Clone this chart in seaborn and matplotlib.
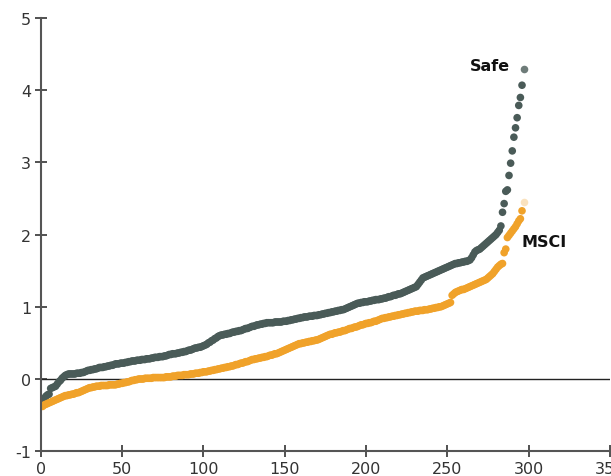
import numpy as np
import pandas as pd
import seaborn as sns
import matplotlib.pyplot as plt

# sorted scores, one point per asset (x = rank)
safe_values = [
    -0.30, -0.27, -0.24, -0.22, -0.21, -0.13, -0.12, -0.11, -0.10, -0.07,
    -0.04, -0.02, 0.01, 0.03, 0.05, 0.06, 0.07, 0.07, 0.07, 0.07,
    0.07, 0.08, 0.08, 0.08, 0.09, 0.09, 0.10, 0.11, 0.12, 0.12,
    0.13, 0.13, 0.14, 0.14, 0.15, 0.16, 0.16, 0.16, 0.17, 0.17,
    0.18, 0.18, 0.19, 0.19, 0.20, 0.21, 0.21, 0.21, 0.22, 0.22,
    0.22, 0.23, 0.23, 0.24, 0.24, 0.25, 0.25, 0.25, 0.26, 0.26,
    0.26, 0.27, 0.27, 0.27, 0.28, 0.28, 0.28, 0.29, 0.29, 0.30,
    0.30, 0.30, 0.31, 0.31, 0.31, 0.32, 0.32, 0.33, 0.34, 0.34,
    0.35, 0.35, 0.35, 0.36, 0.36, 0.37, 0.37, 0.38, 0.38, 0.39,
    0.40, 0.40, 0.41, 0.42, 0.43, 0.43, 0.44, 0.44, 0.45, 0.46,
    0.47, 0.48, 0.50, 0.51, 0.53, 0.54, 0.56, 0.57, 0.59, 0.60,
    0.61, 0.61, 0.62, 0.62, 0.63, 0.63, 0.64, 0.65, 0.65, 0.66,
    0.66, 0.67, 0.67, 0.68, 0.69, 0.70, 0.70, 0.71, 0.72, 0.73,
    0.73, 0.74, 0.75, 0.75, 0.76, 0.76, 0.77, 0.77, 0.78, 0.78,
    0.78, 0.78, 0.78, 0.79, 0.79, 0.79, 0.79, 0.79, 0.80, 0.80,
    0.80, 0.81, 0.81, 0.82, 0.82, 0.83, 0.83, 0.84, 0.84, 0.85,
    0.85, 0.86, 0.86, 0.86, 0.87, 0.87, 0.87, 0.88, 0.88, 0.88,
    0.89, 0.89, 0.90, 0.90, 0.91, 0.91, 0.92, 0.92, 0.93, 0.93,
    0.94, 0.94, 0.95, 0.95, 0.96, 0.96, 0.97, 0.98, 0.99, 1.00,
    1.01, 1.02, 1.03, 1.04, 1.05, 1.05, 1.06, 1.06, 1.07, 1.07,
    1.07, 1.08, 1.08, 1.09, 1.09, 1.10, 1.10, 1.10, 1.11, 1.11,
    1.12, 1.12, 1.13, 1.14, 1.14, 1.15, 1.16, 1.16, 1.17, 1.18,
    1.18, 1.19, 1.20, 1.21, 1.22, 1.23, 1.24, 1.25, 1.26, 1.27,
    1.28, 1.31, 1.34, 1.37, 1.40, 1.41, 1.42, 1.43, 1.44, 1.45,
    1.46, 1.47, 1.48, 1.49, 1.50, 1.51, 1.52, 1.53, 1.54, 1.55,
    1.56, 1.57, 1.58, 1.59, 1.60, 1.60, 1.61, 1.61, 1.62, 1.62,
    1.63, 1.63, 1.64, 1.65, 1.68, 1.72, 1.76, 1.78, 1.79, 1.80,
    1.82, 1.84, 1.86, 1.88, 1.90, 1.92, 1.94, 1.96, 1.98, 2.00,
    2.03, 2.06, 2.12, 2.31, 2.43, 2.60, 2.62, 2.82, 2.99, 3.16,
    3.35, 3.48, 3.62, 3.79, 3.90, 4.07, 4.29,
]

msci_values = [
    -0.38, -0.36, -0.35, -0.34, -0.33, -0.32, -0.31, -0.30, -0.29, -0.28,
    -0.27, -0.26, -0.25, -0.24, -0.23, -0.23, -0.22, -0.22, -0.21, -0.21,
    -0.20, -0.19, -0.19, -0.18, -0.17, -0.16, -0.15, -0.14, -0.13, -0.12,
    -0.12, -0.11, -0.11, -0.10, -0.10, -0.10, -0.09, -0.09, -0.09, -0.09,
    -0.09, -0.08, -0.08, -0.08, -0.08, -0.08, -0.07, -0.07, -0.06, -0.06,
    -0.05, -0.05, -0.04, -0.04, -0.03, -0.02, -0.02, -0.01, -0.01, 0.00,
    0.00, 0.00, 0.00, 0.01, 0.01, 0.01, 0.01, 0.01, 0.02, 0.02,
    0.02, 0.02, 0.02, 0.02, 0.02, 0.02, 0.03, 0.03, 0.03, 0.03,
    0.04, 0.04, 0.04, 0.05, 0.05, 0.05, 0.05, 0.06, 0.06, 0.06,
    0.06, 0.07, 0.07, 0.07, 0.08, 0.08, 0.08, 0.09, 0.09, 0.10,
    0.10, 0.10, 0.11, 0.11, 0.12, 0.12, 0.13, 0.13, 0.14, 0.14,
    0.15, 0.15, 0.16, 0.16, 0.17, 0.17, 0.18, 0.18, 0.19, 0.20,
    0.20, 0.21, 0.22, 0.22, 0.23, 0.24, 0.24, 0.25, 0.26, 0.27,
    0.27, 0.28, 0.28, 0.29, 0.29, 0.30, 0.30, 0.31, 0.31, 0.32,
    0.33, 0.33, 0.34, 0.35, 0.35, 0.36, 0.37, 0.38, 0.39, 0.40,
    0.41, 0.42, 0.43, 0.44, 0.45, 0.46, 0.47, 0.48, 0.49, 0.49,
    0.50, 0.50, 0.51, 0.51, 0.52, 0.52, 0.53, 0.53, 0.54, 0.54,
    0.55, 0.56, 0.57, 0.58, 0.59, 0.60, 0.61, 0.62, 0.62, 0.63,
    0.64, 0.64, 0.65, 0.65, 0.66, 0.67, 0.67, 0.68, 0.69, 0.70,
    0.70, 0.71, 0.72, 0.72, 0.73, 0.74, 0.75, 0.75, 0.76, 0.77,
    0.77, 0.78, 0.78, 0.79, 0.80, 0.80, 0.81, 0.82, 0.83, 0.84,
    0.84, 0.85, 0.85, 0.86, 0.86, 0.87, 0.87, 0.88, 0.88, 0.89,
    0.89, 0.90, 0.90, 0.91, 0.91, 0.92, 0.92, 0.93, 0.93, 0.94,
    0.94, 0.94, 0.95, 0.95, 0.95, 0.96, 0.96, 0.96, 0.97, 0.97,
    0.98, 0.98, 0.99, 0.99, 1.00, 1.00, 1.01, 1.02, 1.03, 1.04,
    1.05, 1.06, 1.16, 1.18, 1.20, 1.21, 1.22, 1.23, 1.24, 1.24,
    1.25, 1.26, 1.27, 1.28, 1.29, 1.30, 1.31, 1.32, 1.33, 1.34,
    1.35, 1.36, 1.37, 1.38, 1.40, 1.42, 1.44, 1.46, 1.49, 1.52,
    1.55, 1.57, 1.59, 1.60, 1.75, 1.80, 1.96, 1.99, 2.02, 2.05,
    2.08, 2.11, 2.15, 2.19, 2.22, 2.33, 2.45,
]

series_names = ["Safe", "MSCI"]
series_colors = {"Safe": "#4a5b58", "MSCI": "#f0a22a"}
last_alpha = {"Safe": 0.8, "MSCI": 0.3}
x_ticks = [0, 50, 100, 150, 200, 250, 300, 350]
y_ticks = [-1, 0, 1, 2, 3, 4, 5]

rank = np.arange(1, len(safe_values) + 1)
df = pd.concat([
    pd.DataFrame({"rank": rank, "value": safe_values, "series": "Safe"}),
    pd.DataFrame({"rank": rank, "value": msci_values, "series": "MSCI"}),
], ignore_index=True)
last = df.groupby("series")["rank"].transform("max") == df["rank"]

sns.set_style("ticks")
plt.rcParams['font.family'] = ['DejaVu Sans']
plt.rcParams['axes.unicode_minus'] = False

fig = plt.figure(figsize=(6.11, 4.77), dpi=100)
ax = fig.add_axes([0.067, 0.052, 0.931, 0.908])

ax.axhline(0, color="#222222", linewidth=1, zorder=1)

sns.scatterplot(data=df[~last], x="rank", y="value", hue="series",
                hue_order=series_names, palette=series_colors,
                s=30, linewidth=0, legend=False, ax=ax, zorder=2)
# the last point of each series is drawn faded
for name in series_names:
    sns.scatterplot(data=df[last & (df["series"] == name)], x="rank",
                    y="value", color=series_colors[name], s=30, linewidth=0,
                    alpha=last_alpha[name], legend=False, ax=ax, zorder=2)

ax.text(288.5, 4.34, "Safe", ha="right", va="center",
        fontsize=11.5, fontweight="bold", color="#111111")
ax.text(295.5, 1.90, "MSCI", ha="left", va="center",
        fontsize=11.5, fontweight="bold", color="#111111")

ax.set_xlim(0, 350)
ax.set_ylim(-1, 5)
ax.set_xticks(x_ticks)
ax.set_yticks(y_ticks)
ax.set_xlabel("")
ax.set_ylabel("")
ax.tick_params(direction="inout", length=8, width=1.2, colors="#333333",
               labelsize=11.5, pad=3)
sns.despine(ax=ax)
for side in ["left", "bottom"]:
    ax.spines[side].set_color("#555555")
    ax.spines[side].set_linewidth(1.5)

fig.savefig("out.png", dpi=100)
